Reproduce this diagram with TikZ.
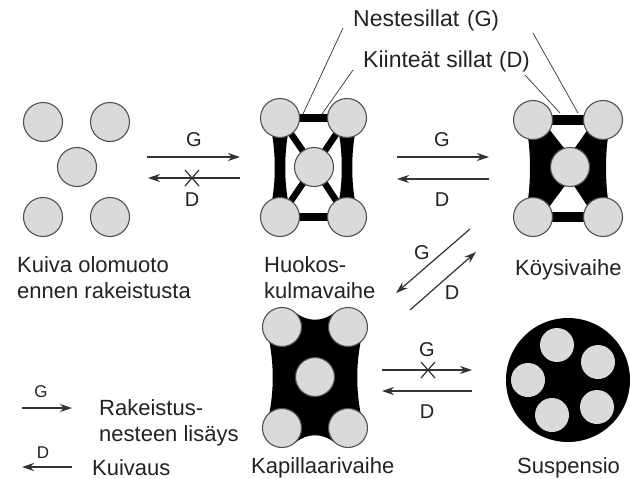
\documentclass[tikz,border=0pt]{standalone}
\usepackage{fontspec}
\setmainfont{Liberation Sans}
\usetikzlibrary{arrows.meta,calc}
\definecolor{graincol}{HTML}{DADADA}
\definecolor{rimcol}{HTML}{505050}
\definecolor{inkcol}{HTML}{222222}
\definecolor{linecol}{HTML}{333333}
\tikzset{
  grain/.style={circle, draw=rimcol, fill=graincol, line width=1.1pt,
                minimum size=39pt, inner sep=0pt},
  sgrain/.style={circle, fill=graincol, minimum size=34pt, inner sep=0pt},
  bar/.style={line width=8pt, black},
  thinbar/.style={line width=6.5pt, black},
  flow/.style={draw=linecol, line width=1.2pt, -{Stealth[length=12pt,width=8pt]}},
  lbl/.style={font=\fontsize{22}{26}\selectfont, text=inkcol, inner sep=0pt},
  toplbl/.style={font=\fontsize{23}{27}\selectfont, text=inkcol, inner sep=0pt},
  small/.style={font=\fontsize{20}{24}\selectfont, text=inkcol, inner sep=0pt},
  tiny/.style={font=\fontsize{17}{20}\selectfont, text=inkcol, inner sep=0pt},
  leader/.style={draw=linecol, line width=0.7pt},
  crossmark/.style={draw=linecol, line width=1.2pt},
}
\begin{document}
\begin{tikzpicture}[x=1pt,y=-1pt]
\useasboundingbox (0,0) rectangle (630,479);

% ---- dry powder ----
\node[grain] (d1) at (43,122) {};
\node[grain] (d2) at (110,122) {};
\node[grain] (dc) at (77,167) {};
\node[grain] (d3) at (43,217) {};
\node[grain] (d4) at (110,217) {};
\node[lbl, anchor=base west] (dryA) at (17,272) {Kuiva olomuoto};
\node[lbl, anchor=base west] (dryB) at (17,298) {ennen rakeistusta};

% ---- pendular state ----
\coordinate (h1) at (280,118);
\coordinate (h2) at (347,118);
\coordinate (hc) at (314,167);
\coordinate (h3) at (280,217);
\coordinate (h4) at (347,217);
\draw[bar] (h1) -- (h2);
\draw[bar] (h3) -- (h4);
\draw[thinbar] (h1) -- (hc) -- (h4);
\draw[thinbar] (h2) -- (hc) -- (h3);
\fill (271,130) .. controls (276,150) and (276,185) .. (271,205)
  -- (289,205) .. controls (284,185) and (284,150) .. (289,130) -- cycle;
\fill (338,130) .. controls (343,150) and (343,185) .. (338,205)
  -- (356,205) .. controls (351,185) and (351,150) .. (356,130) -- cycle;
\node[grain] (h1n) at (h1) {};
\node[grain] (h2n) at (h2) {};
\node[grain] (hcn) at (hc) {};
\node[grain] (h3n) at (h3) {};
\node[grain] (h4n) at (h4) {};
\node[lbl, anchor=base west] (pendA) at (264,272) {Huokos-};
\node[lbl, anchor=base west] (pendB) at (264,298) {kulmavaihe};

% ---- funicular state ----
\coordinate (k1) at (533,120);
\coordinate (k2) at (603,120);
\coordinate (kc) at (570,167);
\coordinate (k3) at (533,217);
\coordinate (k4) at (603,217);
\draw[line width=10pt] (k1) -- (k2);
\draw[line width=10pt] (k3) -- (k4);
\draw[line width=14pt] (k1) -- (kc) -- (k3);
\draw[line width=14pt] (k2) -- (kc) -- (k4);
\fill (k1) -- (527,132) .. controls (531,150) and (531,185) .. (527,205)
  -- (k3) -- (kc) -- cycle;
\fill (k2) -- (609,132) .. controls (605,150) and (605,185) .. (609,205)
  -- (k4) -- (kc) -- cycle;
\node[grain] (k1n) at (k1) {};
\node[grain] (k2n) at (k2) {};
\node[grain] (kcn) at (kc) {};
\node[grain] (k3n) at (k3) {};
\node[grain] (k4n) at (k4) {};
\node[lbl, anchor=base west] (funic) at (515,275) {Köysivaihe};

% ---- capillary state ----
\coordinate (p1) at (282,327);
\coordinate (p2) at (348,327);
\coordinate (pc) at (315,377);
\coordinate (p3) at (282,428);
\coordinate (p4) at (348,428);
\fill (269,340) .. controls (274,365) and (274,390) .. (269,415)
  -- (296,442) .. controls (308,433) and (322,433) .. (334,442)
  -- (361,415) .. controls (356,390) and (356,365) .. (361,340)
  -- (334,313) .. controls (322,322) and (308,322) .. (296,313) -- cycle;
\node[grain] (p1n) at (p1) {};
\node[grain] (p2n) at (p2) {};
\node[grain] (pcn) at (pc) {};
\node[grain] (p3n) at (p3) {};
\node[grain] (p4n) at (p4) {};
\node[lbl, anchor=base west] (capil) at (251,473) {Kapillaarivaihe};

% ---- suspension ----
\node[circle, fill=black, minimum size=124pt, inner sep=0pt] (susp) at (568,380) {};
\node[sgrain] (s1) at (557,345) {};
\node[sgrain] (s2) at (598,362) {};
\node[sgrain] (s3) at (528,380) {};
\node[sgrain] (s4) at (552,415) {};
\node[sgrain] (s5) at (597,407) {};
\node[lbl, anchor=base west] (suspl) at (517,473) {Suspensio};

% ---- transitions ----
% dry <-> pendular
\coordinate (a1s) at (147,157); \coordinate (a1e) at (240,157);
\coordinate (b1s) at (240,178); \coordinate (b1e) at (148,178);
\draw[flow] (a1s) -- (a1e);
\draw[flow] (b1s) -- (b1e);
\coordinate (x1) at (192,178);
\draw[crossmark] ($(x1)+(-7,-8)$) -- ($(x1)+(7,8)$);
\draw[crossmark] ($(x1)+(-7,8)$) -- ($(x1)+(7,-8)$);
\node[small] (g1) at (194,140) {G};
\node[small] (dd1) at (192,200) {D};

% pendular <-> funicular
\coordinate (a2s) at (397,157); \coordinate (a2e) at (489,157);
\coordinate (b2s) at (489,179); \coordinate (b2e) at (397,179);
\draw[flow] (a2s) -- (a2e);
\draw[flow] (b2s) -- (b2e);
\node[small] (g2) at (442,140) {G};
\node[small] (dd2) at (442,200) {D};

% funicular <-> pendular (diagonal)
\coordinate (a3s) at (470,229); \coordinate (a3e) at (396,293);
\coordinate (b3s) at (410,310); \coordinate (b3e) at (476,252);
\draw[flow] (a3s) -- (a3e);
\draw[flow] (b3s) -- (b3e);
\node[small] (g3) at (422,253) {G};
\node[small] (dd3) at (452,293) {D};

% capillary <-> suspension
\coordinate (a4s) at (382,370); \coordinate (a4e) at (472,370);
\coordinate (b4s) at (472,391); \coordinate (b4e) at (382,391);
\draw[flow] (a4s) -- (a4e);
\draw[flow] (b4s) -- (b4e);
\coordinate (x4) at (428,370);
\draw[crossmark] ($(x4)+(-7,-8)$) -- ($(x4)+(7,8)$);
\draw[crossmark] ($(x4)+(-7,8)$) -- ($(x4)+(7,-8)$);
\node[small] (g4) at (427,350) {G};
\node[small] (dd4) at (427,412) {D};

% ---- bridge labels ----
\node[toplbl, anchor=base west] (nest) at (353,27) {Nestesillat};
\node[lbl, anchor=base west] (nestG) at (467,27) {(G)};
\node[toplbl, anchor=base west] (kiin) at (363,67) {Kiinteät sillat};
\node[lbl, anchor=base west] (kiinD) at (499,67) {(D)};
\coordinate (n1) at (343,28); \coordinate (n1e) at (303,114);
\coordinate (n2) at (533,33); \coordinate (n2e) at (578,113);
\coordinate (q1) at (353,70); \coordinate (q1e) at (322,114);
\coordinate (q2) at (525,75); \coordinate (q2e) at (560,113);
\draw[leader] (n1) -- (n1e);
\draw[leader] (n2) -- (n2e);
\draw[leader] (q1) -- (q1e);
\draw[leader] (q2) -- (q2e);

% ---- legend ----
\coordinate (lg1) at (22,408); \coordinate (lg2) at (72,408);
\coordinate (ld1) at (72,467); \coordinate (ld2) at (22,467);
\draw[flow] (lg1) -- (lg2);
\draw[flow] (ld1) -- (ld2);
\node[tiny] (lgG) at (41,392) {G};
\node[tiny] (ldD) at (43,453) {D};
\node[lbl, anchor=base west] (legA) at (99,415) {Rakeistus-};
\node[lbl, anchor=base west] (legB) at (99,441) {nesteen lisäys};
\node[lbl, anchor=base west] (legC) at (92,475) {Kuivaus};
\end{tikzpicture}
\end{document}
